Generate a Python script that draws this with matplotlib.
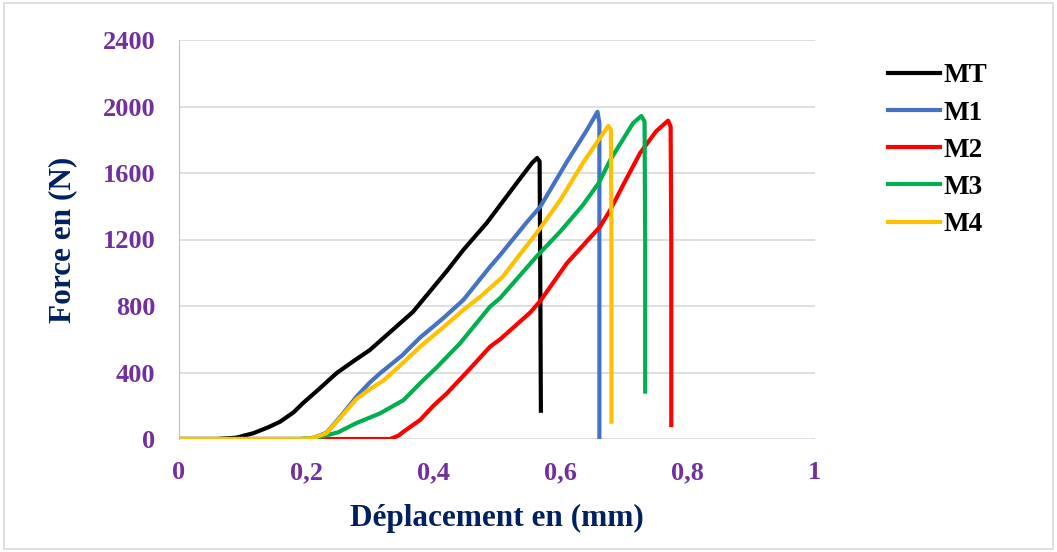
import matplotlib
matplotlib.use("Agg")
import matplotlib.pyplot as plt
from matplotlib.patches import Rectangle

plt.rcParams['font.family'] = ['Liberation Serif', 'DejaVu Serif']

# courbes force / deplacement
mt_x = [0, 0.06, 0.09, 0.117, 0.14, 0.159, 0.18, 0.195, 0.22, 0.248, 0.275, 0.30,
        0.368, 0.421, 0.447, 0.484, 0.505, 0.535, 0.555, 0.563, 0.567, 0.568, 0.569]
mt_y = [0, 0, 8, 35, 70, 104, 160, 216, 300, 397, 470, 535,
        765, 1010, 1137, 1300, 1407, 1560, 1660, 1690, 1670, 1000, 170]

m1_x = [0, 0.19, 0.21, 0.232, 0.255, 0.279, 0.30, 0.316, 0.35, 0.379, 0.415, 0.447, 0.489,
        0.505, 0.546, 0.568, 0.61, 0.64, 0.658, 0.661, 0.661]
m1_y = [0, 0, 5, 38, 140, 254, 340, 395, 500, 610, 725, 836, 1036,
        1107, 1300, 1397, 1668, 1850, 1968, 1900, 0]

m2_x = [0, 0.2, 0.332, 0.345, 0.353, 0.379, 0.40, 0.421, 0.452, 0.489, 0.505, 0.552, 0.568,
        0.61, 0.662, 0.678, 0.70, 0.725, 0.75, 0.769, 0.773, 0.774, 0.774]
m2_y = [0, 0, 0, 20, 44, 114, 200, 274, 400, 555, 600, 760, 830,
        1058, 1277, 1377, 1540, 1720, 1850, 1915, 1880, 1200, 84]

m3_x = [0, 0.19, 0.22, 0.25, 0.279, 0.316, 0.353, 0.379, 0.405, 0.442, 0.489, 0.505, 0.562,
        0.60, 0.635, 0.66, 0.678, 0.714, 0.727, 0.732, 0.733, 0.733]
m3_y = [0, 0, 10, 40, 96, 154, 234, 335, 430, 576, 796, 848, 1097,
        1250, 1407, 1540, 1678, 1900, 1943, 1910, 1200, 285]

m4_x = [0, 0.19, 0.21, 0.232, 0.255, 0.279, 0.30, 0.321, 0.35, 0.379, 0.415, 0.447, 0.475,
        0.509, 0.54, 0.562, 0.60, 0.635, 0.66, 0.675, 0.679, 0.68, 0.68]
m4_y = [0, 0, 5, 35, 135, 240, 300, 350, 450, 555, 670, 776, 860,
        976, 1130, 1237, 1440, 1660, 1800, 1883, 1860, 1200, 104]

labels = ["MT", "M1", "M2", "M3", "M4"]
colors = ["black", "#4472C4", "#FF0000", "#00B050", "#FFC000"]
xs = [mt_x, m1_x, m2_x, m3_x, m4_x]
ys = [mt_y, m1_y, m2_y, m3_y, m4_y]

xticks = [0, 0.2, 0.4, 0.6, 0.8, 1]
xtick_labels = ["0", "0,2", "0,4", "0,6", "0,8", "1"]
yticks = [0, 400, 800, 1200, 1600, 2000, 2400]

fig = plt.figure(figsize=(10.57, 5.52), dpi=100)
ax = fig.add_axes([179/1057, 1-439/552, 636/1057, 399/552])

for x, y, lab, c in zip(xs, ys, labels, colors):
    ax.plot(x, y, color=c, lw=3.0, label=lab, solid_joinstyle="round")

ax.set_xlim(0, 1)
ax.set_ylim(0, 2400)
ax.set_xticks(xticks)
ax.set_xticklabels(xtick_labels)
ax.set_yticks(yticks)
ax.grid(axis="y", color="#D9D9D9", lw=1.2)
ax.set_axisbelow(True)
for s in ["top", "right", "bottom"]:
    ax.spines[s].set_visible(False)
ax.spines["left"].set_color("#BFBFBF")
ax.tick_params(axis="y", length=0, labelsize=19, labelcolor="#7030A0", pad=17)
ax.tick_params(axis="x", length=0, labelsize=19, labelcolor="#7030A0", pad=16)
for t in ax.get_xticklabels() + ax.get_yticklabels():
    t.set_fontweight("bold")

ax.set_xlabel("Déplacement en (mm)", fontsize=22.5, fontweight="bold", color="#002060", labelpad=14)
ax.set_ylabel("Force en (N)", fontsize=22.5, fontweight="bold", color="#002060", labelpad=18)

leg = fig.legend(loc="upper left", bbox_to_anchor=(864/1057, 1-39/552), frameon=False,
                 prop={"weight": "bold", "size": 19.5}, handlelength=1.9,
                 labelspacing=0.45, handletextpad=0.12)

fig.patches.append(Rectangle((0.004, 0.006), 0.992, 0.988, transform=fig.transFigure,
                             fill=False, edgecolor="#D9D9D9", lw=1.2))

fig.savefig("out.png", dpi=100)
